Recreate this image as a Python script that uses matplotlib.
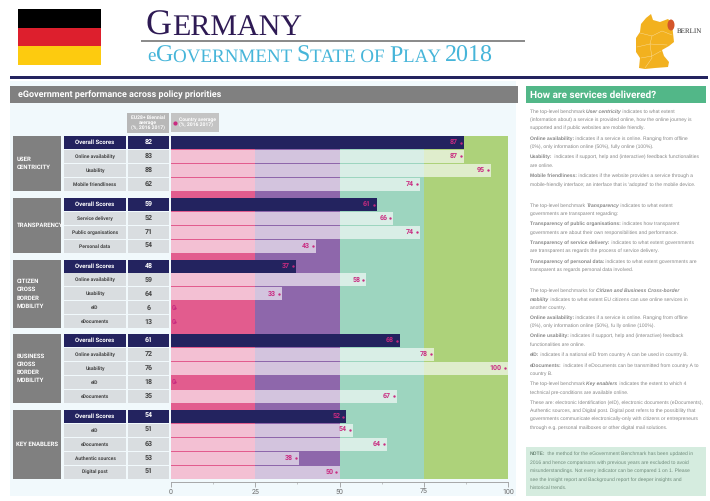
import matplotlib
matplotlib.use('Agg')
import matplotlib.pyplot as plt
from matplotlib.patches import Rectangle, Polygon, Ellipse

plt.rcParams['font.family'] = ['Liberation Sans', 'DejaVu Sans']
plt.rcParams['text.hinting'] = 'none'
plt.rcParams['text.hinting_factor'] = 1
NARROW = ['Roboto', 'Liberation Sans', 'DejaVu Sans']

# data
groups = ['USER\nCENTRICITY', 'TRANSPARENCY', 'CITIZEN\nCROSS\nBORDER\nMOBILITY',
          'BUSINESS\nCROSS\nBORDER\nMOBILITY', 'KEY ENABLERS']
row_labels = [
    ['Overall Scores', 'Online availability', 'Usability', 'Mobile friendliness'],
    ['Overall Scores', 'Service delivery', 'Public organisations', 'Personal data'],
    ['Overall Scores', 'Online availability', 'Usability', 'eID', 'eDocuments'],
    ['Overall Scores', 'Online availability', 'Usability', 'eID', 'eDocuments'],
    ['Overall Scores', 'eID', 'eDocuments', 'Authentic sources', 'Digital post'],
]
eu_average = [[82, 83, 88, 62], [59, 52, 71, 54], [48, 59, 64, 6, 13],
              [61, 72, 76, 18, 35], [54, 51, 63, 53, 51]]
country_average = [[87, 87, 95, 74], [61, 66, 74, 43], [37, 58, 33, 0, 0],
                   [68, 78, 100, 0, 67], [52, 54, 64, 38, 50]]
zone_edges = [0, 25, 50, 75, 100]
zone_colors = ['#e25c8e', '#8e67ab', '#9dd5bf', '#add27a']
group_tops = [136, 198, 259.5, 334, 410]
x_ticks = [0, 25, 50, 75, 100]

NAVY = '#23235f'
PINK = '#c92a80'
GREY = '#858585'

fig = plt.figure(figsize=(7.1, 5.01), dpi=100, facecolor='white')
bg = fig.add_axes([0, 0, 1, 1])
bg.set_xlim(0, 710)
bg.set_ylim(501, 0)
bg.axis('off')


def box(x0, y0, x1, y1, color, z=1):
    bg.add_patch(Rectangle((x0, y0), x1 - x0, y1 - y0, color=color, lw=0, zorder=z))


def runs(x, y, parts, color=GREY, family=None, z=5):
    # draw pieces of text one after the other, measuring each one
    rend = fig.canvas.get_renderer()
    fam = family or plt.rcParams['font.family']
    for s, size, weight, style in parts:
        bg.text(x, y, s, fontsize=size, fontweight=weight, fontstyle=style, color=color,
                ha='left', va='baseline', zorder=z, family=fam)
        t2 = bg.text(x, y, s + '|', fontsize=size, fontweight=weight, fontstyle=style, family=fam)
        bar = bg.text(x, y, '|', fontsize=size, fontweight=weight, fontstyle=style, family=fam)
        x += t2.get_window_extent(rend).width - bar.get_window_extent(rend).width
        t2.remove()
        bar.remove()


# flag
box(18, 9, 101, 27.5, '#000000')
box(18, 27.5, 101, 46, '#dd1f2d')
box(18, 46, 101, 64.5, '#fdcb0f')

# title block
SERIF = ['Liberation Serif', 'DejaVu Serif']
runs(146, 35, [('G', 26, 'normal', 'normal'), ('ERMANY', 21.5, 'normal', 'normal')], color='#2e1a54', family=SERIF)
box(141, 40.2, 525, 42, '#8c8c8c')
sub_big, sub_small = 17.3, 13.8
runs(147, 62, [('e', sub_small, 'normal', 'normal'), ('G', sub_big, 'normal', 'normal'),
               ('OVERNMENT ', sub_small, 'normal', 'normal'), ('S', sub_big, 'normal', 'normal'),
               ('TATE OF ', sub_small, 'normal', 'normal'), ('P', sub_big, 'normal', 'normal'),
               ('LAY ', sub_small, 'normal', 'normal'), ('2018', sub_big, 'normal', 'normal')],
     color='#46b5d9', family=SERIF)

# map
bg.add_patch(Polygon([(646, 18), (651, 14), (653, 20), (660, 22), (668, 19), (672, 23), (673, 33),
                      (674, 42), (669, 46), (662, 50), (664, 56), (669, 62), (668, 67), (655, 68),
                      (645, 69), (639, 68), (640, 58), (636, 52), (636, 38), (640, 32), (641, 24)],
                     closed=True, color='#f2b11f', lw=0, zorder=2))
for seg in [[(640, 33), (652, 36), (662, 31), (672, 35)], [(637, 47), (650, 44), (667, 45)],
            [(652, 36), (650, 44), (652, 58), (645, 68)], [(641, 58), (652, 56), (661, 51)]]:
    bg.plot(*zip(*seg), color='white', lw=0.3, alpha=0.6, zorder=3)
bg.add_patch(Ellipse((671, 25), 7, 11, color='#d4552a', lw=0, zorder=4))
bg.text(677, 31, 'BERLIN', fontsize=5, color='#333333', family=SERIF, va='center', zorder=5)

box(10, 76, 708, 79, NAVY)

# panels
box(10, 81, 516, 496, '#f1f9fc', 0)
box(10, 86, 518, 103, '#808080')
bg.text(18, 95, 'eGovernment performance across policy priorities', color='white', fontsize=6.3,
        fontweight='bold', va='center', family=NARROW, zorder=5)
box(526, 86, 706, 103, '#52b788')
bg.text(530, 95, 'How are services delivered?', color='white', fontsize=7.3, fontweight='bold',
        va='center', family=NARROW, zorder=5)

# legend boxes
box(127, 113, 169, 133, '#b8b8b8')
bg.text(148, 123, 'EU28+ Biennial\naverage\n(%, 2016 2017)', color='white', fontsize=3.5, fontweight='bold',
        ha='center', va='center', linespacing=1.2, family=NARROW, zorder=5)
box(171, 113, 219, 132, '#c4c4c4')
bg.plot([174.5], [122.5], 'o', ms=2, color=PINK, zorder=5)
bg.text(179, 122.5, 'Country average\n(%, 2016 2017)', color='white', fontsize=3.6, fontweight='bold',
        va='center', linespacing=1.2, family=NARROW, zorder=5)

# chart
ax = fig.add_axes([171 / 710, 1 - 482 / 501, 337 / 710, (482 - 136) / 501])
ax.patch.set_alpha(0)
ax.set_xlim(0, 100)
ax.set_ylim(482, 136)
for i in range(4):
    ax.fill_betweenx([136, 479], zone_edges[i], zone_edges[i + 1], color=zone_colors[i], lw=0, zorder=1)

PITCH, ROW_H = 13.9, 13
for top, name, labels, eu, country in zip(group_tops, groups, row_labels, eu_average, country_average):
    n = len(labels)
    bottom = top + PITCH * n - 0.9
    box(13, top, 61, bottom, '#808080')
    lines = name.split('\n')
    mid = (top + bottom) / 2
    for k, txt in enumerate(lines):
        bg.text(16.5, mid + (k - (len(lines) - 1) / 2) * 8.3, txt, color='white', fontsize=4.3,
                fontweight='bold', va='center', family=NARROW, zorder=5)
    for j in range(n):
        y = top + j * PITCH
        overall = j == 0
        box(63.5, y, 126, y + ROW_H, NAVY if overall else '#d9dde0')
        box(128, y, 169, y + ROW_H, NAVY if overall else '#d9dde0')
        bg.text(95, y + ROW_H / 2, labels[j], color='white' if overall else '#444444',
                fontsize=4.6 if overall else 3.4, fontweight='bold', ha='center', va='center',
                family=NARROW, zorder=5)
        bg.text(148.5, y + ROW_H / 2, str(eu[j]), color='white' if overall else '#444444',
                fontsize=5.4, fontweight='bold', ha='center', va='center', family=NARROW, zorder=5)
        v = country[j]
        if overall:
            ax.barh(y, v, height=ROW_H, align='edge', color=NAVY, zorder=3)
        elif v > 0:
            ax.barh(y, v, height=ROW_H, align='edge', color='white', alpha=0.62, lw=0, zorder=3)
        if v > 0:
            ax.text(v - 1.8, y + ROW_H / 2, str(v), color=PINK, fontsize=5, fontweight='bold',
                    ha='right', va='center', family=NARROW, zorder=4)
            ax.plot([v - 0.9], [y + ROW_H / 2], 'o', ms=0.7, color=PINK, zorder=4)
        else:
            ax.text(0.2, y + ROW_H / 2, str(v), color=PINK, fontsize=5, fontweight='bold',
                    ha='left', va='center', family=NARROW, zorder=4)
            ax.plot([1.3], [y + ROW_H / 2], 'o', ms=0.7, color=PINK, zorder=4)

for s in ['top', 'left', 'right']:
    ax.spines[s].set_visible(False)
ax.spines['bottom'].set_color('#9a9a9a')
ax.spines['bottom'].set_linewidth(0.6)
ax.set_yticks([])
ax.set_xticks(x_ticks)
ax.set_xticks([12.5, 37.5, 62.5, 87.5], minor=True)
ax.tick_params(axis='x', which='major', length=3.6, width=0.5, color='#8a8a8a', labelsize=5.2,
               labelcolor='#666666', pad=1.5)
ax.tick_params(axis='x', which='minor', length=1.6, width=0.4, color='#9a9a9a')
for lab in ax.get_xticklabels():
    lab.set_family(NARROW)

# right column text
FS = 3.65
N, B, BI = ('normal', 'normal'), ('bold', 'normal'), ('bold', 'italic')


def line(y, *parts, color=GREY):
    runs(530, y + 1.4, [(s, FS, st[0], st[1]) for s, st in parts], color=color)


line(112, ('The top-level benchmark ', N), ('User centricity', BI), (' indicates to what extent', N))
line(120, ('(information about) a service is provided online, how the online journey is', N))
line(128, ('supported and if public websites are mobile friendly.', N))
line(139, ('Online availability:', B), (' indicates if a service is online. Ranging from offline', N))
line(147, ('(0%), only information online (50%), fully online (100%).', N))
line(157, ('Usability:', B), (' indicates if support, help and (interactive) feedback functionalities', N))
line(166, ('are online.', N))
line(176, ('Mobile friendliness:', B), (' indicates if the website provides a service through a', N))
line(185, ("mobile-friendly interface; an interface that is 'adopted' to the mobile device.", N))
line(206, ('The top-level benchmark ', N), ('Transparency', BI), (' indicates to what extent', N))
line(214, ('governments are transparent regarding:', N))
line(224, ('Transparency of public organisations:', B), (' indicates how transparent', N))
line(233, ('governments are about their own responsibilities and performance.', N))
line(243, ('Transparency of service delivery:', B), (' indicates to what extent governments', N))
line(251, ('are transparent as regards the process of service delivery.', N))
line(262, ('Transparency of personal data:', B), (' indicates to what extent governments are', N))
line(270, ('transparent as regards personal data involved.', N))
line(291, ('The top-level benchmarks for ', N), ('Citizen and Business Cross-border', BI))
line(300, ('mobility', BI), (' indicates to what extent EU citizens can use online services in', N))
line(308, ('another country.', N))
line(318, ('Online availability:', B), (' indicates if a service is online. Ranging from offline', N))
line(326, ('(0%), only information online (50%), fu lly online (100%).', N))
line(336, ('Online usability:', B), (' indicates if support, help and (interactive) feedback', N))
line(345, ('functionalities are online.', N))
line(355, ('eID:', B), (' indicates if a national eID from country A can be used in country B.', N))
line(366, ('eDocuments:', B), (' indicates if eDocuments can be transmitted from country A to', N))
line(374, ('country B.', N))
line(384, ('The top-level benchmark ', N), ('Key enablers', BI), (' indicates the extent to which 4', N))
line(393, ('technical pre-conditions are available online.', N))
line(403, ('These are: electronic Identification (eID), electronic documents (eDocuments),', N))
line(411, ('Authentic sources, and Digital post. Digital post refers to the possibility that', N))
line(419, ('governments communicate electronically-only with citizens or entrepreneurs', N))
line(428, ('through e.g. personal mailboxes or other digital mail solutions.', N))

box(526, 447, 706, 496, '#d5ecdf')
NOTE = '#6f8a7a'
line(454, ('NOTE:', B), (' the method for the eGovernment Benchmark has been updated in', N), color=NOTE)
line(463, ('2016 and hence comparisons with previous years are excluded to avoid', N), color=NOTE)
line(471, ('misunderstandings. Not every indicator can be compared 1 on 1. Please', N), color=NOTE)
line(480, ('see the Insight report and Background report for deeper insights and', N), color=NOTE)
line(488, ('historical trends.', N), color=NOTE)

fig.savefig('out.png', dpi=100)
